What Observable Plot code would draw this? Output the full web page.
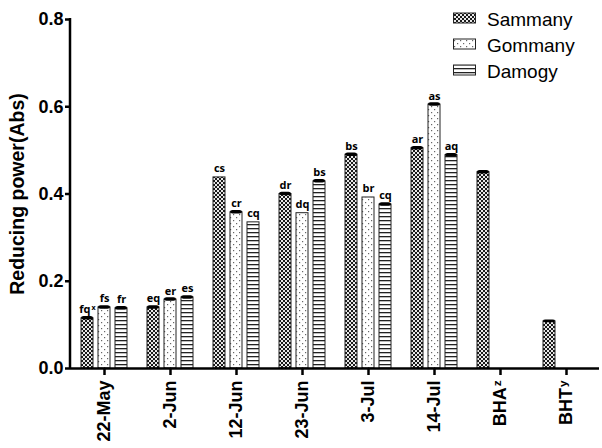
<!DOCTYPE html>
<html><head><meta charset="utf-8">
<script src="https://cdn.jsdelivr.net/npm/d3@7"></script>
<script src="https://cdn.jsdelivr.net/npm/@observablehq/plot@0.6"></script>
<style>
body{margin:0;background:#fff}
#chart{position:relative;width:602px;height:448px}
</style>
</head><body>
<svg width="0" height="0" style="position:absolute">
<defs>
<pattern id="pat-Sammany" patternUnits="userSpaceOnUse" width="4" height="4">
<rect width="4" height="4" fill="#fff"/>
<rect x="0" y="0" width="2" height="2" fill="#1a1a1a"/>
<rect x="2" y="2" width="2" height="2" fill="#1a1a1a"/>
<rect x="2.6" y="0.6" width="0.8" height="0.8" fill="#777"/>
<rect x="0.6" y="2.6" width="0.8" height="0.8" fill="#777"/>
</pattern>
<pattern id="pat-Gommany" patternUnits="userSpaceOnUse" width="6" height="6">
<rect width="6" height="6" fill="#fff"/>
<rect x="1" y="1" width="1.2" height="1.2" fill="#666"/>
<rect x="4" y="4" width="1.2" height="1.2" fill="#666"/>
</pattern>
<pattern id="pat-Damogy" patternUnits="userSpaceOnUse" width="4" height="4">
<rect width="4" height="4" fill="#fff"/>
<rect x="0" y="0" width="4" height="1.3" fill="#222"/>
</pattern>
</defs>
</svg>
<div id="chart"></div>
<script>
const groups = ["22-May","2-Jun","12-Jun","23-Jun","3-Jul","14-Jul","BHA","BHT"];
const groupSup = ["","","","","","","z","y"];
const series = ["Sammany","Gommany","Damogy"];
const sammanyValues = [0.115,0.140,0.438,0.400,0.490,0.505,0.450,0.108];
const gommanyValues = [0.140,0.158,0.358,0.356,0.392,0.605,null,null];
const damogyValues  = [0.138,0.163,0.335,0.429,0.376,0.489,null,null];
const sammanyErr = [0.004,0.004,0,0.004,0.004,0.004,0.004,0.003];
const gommanyErr = [0.004,0.004,0.004,0,0,0.004,null,null];
const damogyErr  = [0.004,0.004,0,0.004,0.004,0.004,null,null];
const sammanyLetters = ["fq","eq","cs","dr","bs","ar","",""];
const gommanyLetters = ["fs","er","cr","dq","br","as","",""];
const damogyLetters  = ["fr","es","cq","bs","cq","aq","",""];
const sammanyLetterSup = ["x","","","","","","",""];
const yTicks = [0,0.2,0.4,0.6,0.8];
const yLabel = "Reducing power(Abs)";

const valueSets = [sammanyValues, gommanyValues, damogyValues];
const errSets = [sammanyErr, gommanyErr, damogyErr];
const letterSets = [sammanyLetters, gommanyLetters, damogyLetters];
const supSets = [sammanyLetterSup, [], []];
const SEP = "\u200B";

const rows = [];
groups.forEach((g, i) => {
  series.forEach((s, j) => {
    const v = valueSets[j][i];
    if (v == null) return;
    const sup = supSets[j][i] || "";
    rows.push({group: g, series: s, value: v, err: errSets[j][i] || 0,
               letter: letterSets[j][i] + (sup ? SEP + sup : "")});
  });
});

const FONT = "'Liberation Sans', Arial, sans-serif";

const plot = Plot.plot({
  width: 602, height: 448,
  marginLeft: 70, marginRight: 2, marginTop: 19, marginBottom: 80,
  style: {fontFamily: FONT, background: "white", color: "black"},
  fx: {domain: groups, padding: 0, label: null},
  x: {domain: series, paddingInner: 0.28, paddingOuter: 0.48, axis: null},
  y: {domain: [0, 0.8]},
  marks: [
    ...series.map(s => Plot.barY(rows.filter(d => d.series === s), {
      fx: "group", x: "series", y: "value",
      fill: `url(#pat-${s})`, stroke: "#222", strokeWidth: 1
    })),
    Plot.barY(rows.filter(d => d.err > 0), {
      fx: "group", x: "series",
      y1: d => d.value - d.err, y2: d => d.value + d.err,
      fill: "black", rx: 2.5
    }),
    Plot.text(rows.filter(d => d.letter), {
      fx: "group", x: "series", y: "value", text: "letter",
      dy: -5, lineAnchor: "bottom", fontWeight: "bold", fontSize: 11,
      fontFamily: "'Open Sans', sans-serif"
    }),
    Plot.ruleY([0], {stroke: "black", strokeWidth: 2.5}),
    Plot.axisY({
      ticks: yTicks, tickFormat: d3.format(".1f"), tickSize: 6, tickPadding: 2,
      strokeWidth: 2.5, fontSize: 18, fontWeight: "bold",
      label: null
    }),
    Plot.axisY({
      ticks: [], label: yLabel, labelAnchor: "center", labelArrow: "none",
      labelOffset: 61, fontSize: 19.5, fontWeight: "bold"
    }),
    Plot.axisFx({
      anchor: "bottom",
      tickRotate: -90, tickSize: 7, tickPadding: 5, strokeWidth: 2.5,
      fontSize: 18, fontWeight: "bold", label: null,
      tickFormat: (d) => { const k = groups.indexOf(d); return d + (groupSup[k] ? SEP + groupSup[k] : ""); }
    })
  ]
});

document.getElementById("chart").appendChild(plot);
const svg = d3.select(plot);

// superscripts
svg.selectAll("text").each(function() {
  const t = this.textContent;
  if (t.includes(SEP)) {
    const [base, sup] = t.split(SEP);
    const el = d3.select(this);
    el.text(base);
    el.append("tspan").attr("dy", "-0.45em").attr("dx", "1").attr("font-size", "0.65em").text(sup);
  }
});

// y axis line
const yr = plot.scale("y").range;
svg.append("line")
  .attr("x1", 70).attr("x2", 70)
  .attr("y1", yr[1] - 1).attr("y2", yr[0] + 1)
  .attr("stroke", "black").attr("stroke-width", 2.5);

// legend
const lg = svg.append("g").attr("font-family", FONT).attr("font-size", 19).attr("text-anchor", "start");
series.forEach((s, i) => {
  const cy = 18 + i * 26;
  lg.append("rect").attr("x", 453.5).attr("y", cy - 5).attr("width", 22).attr("height", 10)
    .attr("fill", `url(#pat-${s})`).attr("stroke", "#222").attr("stroke-width", 1);
  lg.append("text").attr("x", 487).attr("y", cy + 8).attr("fill", "black").text(s);
});
</script>
</body></html>
